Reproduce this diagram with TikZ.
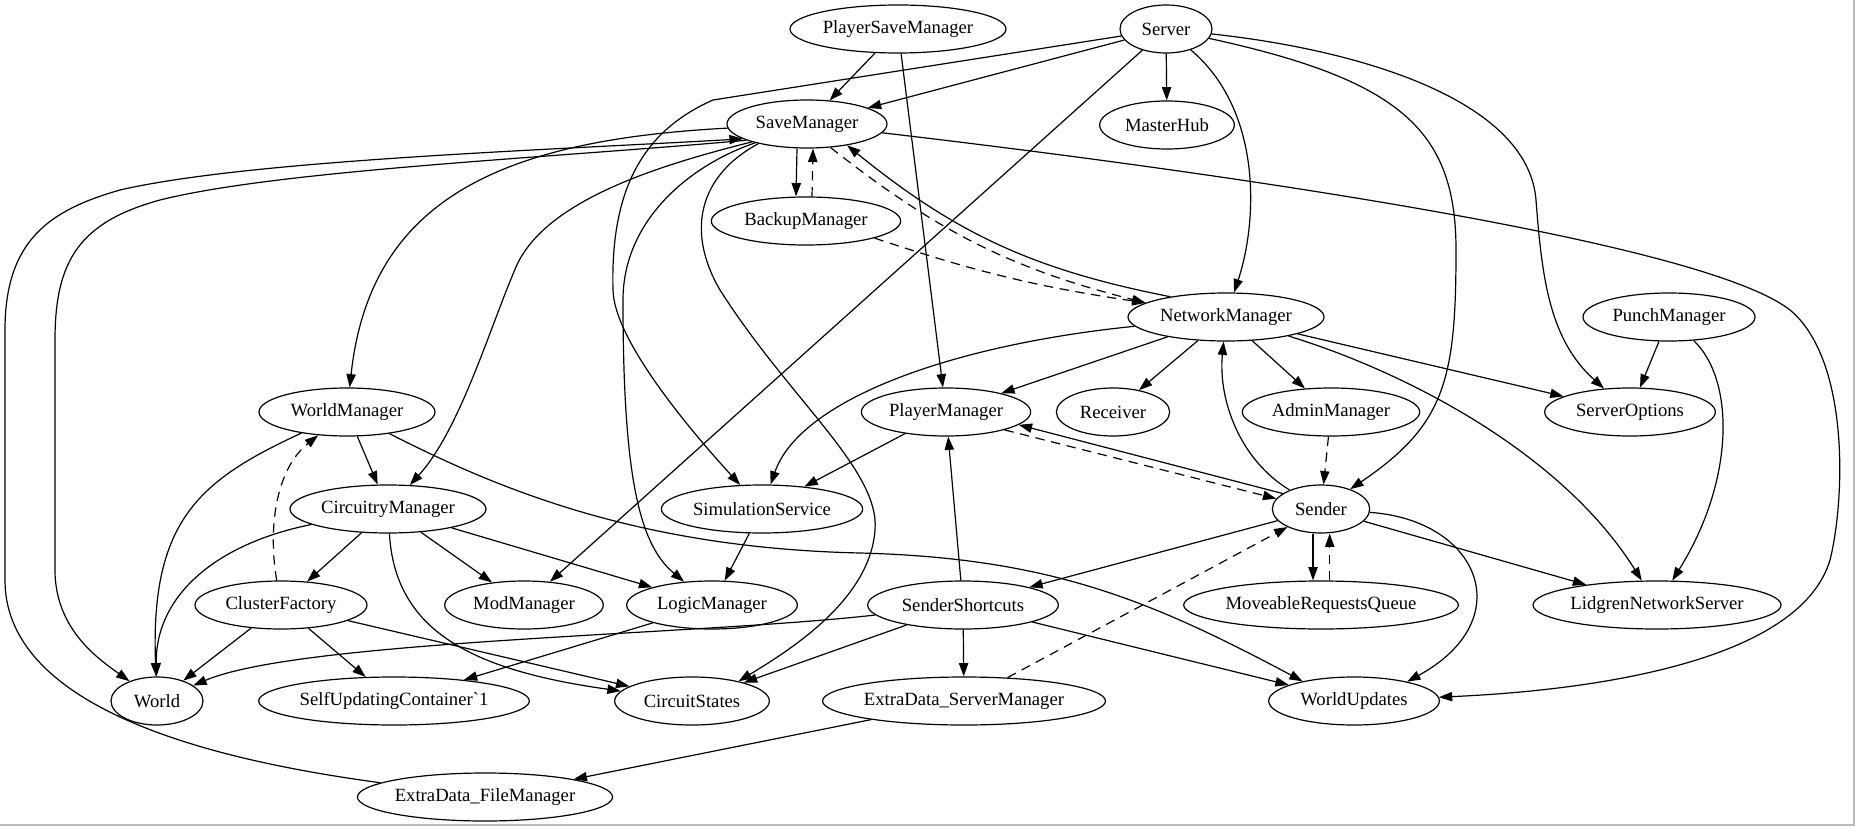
\documentclass[tikz,border=0pt]{standalone}
\usepackage{fontspec}
\setmainfont{Liberation Serif}
\usetikzlibrary{arrows.meta,shapes.geometric}

\begin{document}
\begin{tikzpicture}[x=0.75pt, y=-0.75pt, ->, >={Triangle[length=10pt,width=7pt]}, line width=0.9pt, cls/.style = {ellipse, draw, minimum height=36pt, inner sep=0pt, font=\fontsize{14pt}{16pt}\selectfont}, weak/.style = {dash pattern=on 7pt off 5pt}, every edge/.append style={line width=0.9pt}]

\useasboundingbox (0,0) rectangle (1862,827);

\node[cls, minimum width=162pt] (psave) at (898,29) {PlayerSaveManager};
\node[cls, minimum width=69pt] (srv) at (1166,29) {Server};
\node[cls, minimum width=120pt] (save) at (807,124) {SaveManager};
\node[cls, minimum width=101pt] (hub) at (1167,125) {MasterHub};
\node[cls, minimum width=142pt] (backup) at (806,221) {BackupManager};
\node[cls, minimum width=147pt] (net) at (1226,317) {NetworkManager};
\node[cls, minimum width=129pt] (punch) at (1669,317) {PunchManager};
\node[cls, minimum width=132pt] (wman) at (347,412) {WorldManager};
\node[cls, minimum width=127pt] (pman) at (946,412) {PlayerManager};
\node[cls, minimum width=85pt] (recv) at (1113,412) {Receiver};
\node[cls, minimum width=133pt] (admin) at (1331,412) {AdminManager};
\node[cls, minimum width=128pt] (opts) at (1630,412) {ServerOptions};
\node[cls, minimum width=147pt] (circ) at (388,509) {CircuitryManager};
\node[cls, minimum width=151pt] (sim) at (762,509) {SimulationService};
\node[cls, minimum width=73pt] (send) at (1321,509) {Sender};
\node[cls, minimum width=129pt] (clus) at (281,605) {ClusterFactory};
\node[cls, minimum width=119pt] (mod) at (524,605) {ModManager};
\node[cls, minimum width=128pt] (logic) at (712,605) {LogicManager};
\node[cls, minimum width=143pt] (short) at (963,605) {SenderShortcuts};
\node[cls, minimum width=206pt] (queue) at (1321,605) {MoveableRequestsQueue};
\node[cls, minimum width=186pt] (lid) at (1657,605) {LidgrenNetworkServer};
\node[cls, minimum width=69pt] (world) at (157,701) {World};
\node[cls, minimum width=203pt] (suc) at (394,701) {SelfUpdatingContainer\textasciigrave 1};
\node[cls, minimum width=116pt] (cstates) at (692,701) {CircuitStates};
\node[cls, minimum width=212pt] (xserv) at (964,701) {ExtraData\_ServerManager};
\node[cls, minimum width=128pt] (wupd) at (1354,701) {WorldUpdates};
\node[cls, minimum width=191pt] (xfile) at (485,797) {ExtraData\_FileManager};

\path
    (srv) edge (save)
    (srv) edge (hub)
    (srv) edge (mod)
    (psave) edge (save)
    (psave) edge (pman)
    (net) edge (pman)
    (net) edge (recv)
    (net) edge (admin)
    (net) edge (opts)
    (punch) edge (opts)
    (pman) edge (sim)
    (send) edge (short)
    (send) edge (lid)
    (short) edge (pman)
    (short) edge (xserv)
    (short) edge (wupd)
    (short) edge (cstates)
    (xserv) edge (xfile)
    (wman) edge (circ)
    (circ) edge (clus)
    (circ) edge (mod)
    (circ) edge (logic)
    (clus) edge (world)
    (clus) edge (suc)
    (clus) edge (cstates)
    (sim) edge (logic)
    (logic) edge (suc)
    (admin) edge[weak] (send)
    (xserv) edge[weak] (send)
    (backup.-14) edge[weak, bend right=5] (net.170)
    (save.-45) edge[weak, bend right=12] (net.170)
    (net.160) edge[bend left=14] (save.-28)
    (send.158) edge (pman.-10)
    (pman.-17) edge[weak] (send.167)
    ([xshift=-7.5pt]save.south) edge ([xshift=-7.5pt]backup.north)
    ([xshift=4.5pt]backup.north) edge[weak] ([xshift=4.5pt]save.south)
    ([xshift=-6pt]send.south) edge ([xshift=-6pt]queue.north)
    ([xshift=6.5pt]queue.north) edge[weak] ([xshift=6.5pt]send.south);

% long routed connectors
\draw (srv) .. controls (1262,110) and (1258,220) .. (net);
\draw (srv) .. controls (1400,80) and (1456,130) .. (1456,250) .. controls (1456,380) and (1445,425) .. (send);
\draw (srv) .. controls (1360,50) and (1528,100) .. (1536,200) .. controls (1542,280) and (1550,340) .. (opts);
\draw (srv) -- (713,100) .. controls (650,128) and (610,180) .. (613,290) .. controls (614,340) and (690,430) .. (sim);
\draw (save) .. controls (500,140) and (370,200) .. (wman);
\draw (save.198) .. controls (660,165) and (545,200) .. (516,267) .. controls (490,327) and (460,430) .. (circ);
\draw (save.200) .. controls (690,165) and (623,220) .. (623,300) .. controls (623,480) and (640,545) .. (logic);
\draw (save.202) .. controls (700,175) and (685,230) .. (720,290) .. controls (790,400) and (880,470) .. (875,530) .. controls (870,600) and (790,650) .. (cstates.23);
\draw (save.195) .. controls (550,158) and (280,170) .. (160,200) .. controls (80,222) and (55,260) .. (55,340) -- (55,570) .. controls (55,630) and (100,660) .. (world);
\draw (xfile) .. controls (250,765) and (5,720) .. (5,580) -- (5,330) .. controls (5,240) and (50,210) .. (120,190) .. controls (250,160) and (550,150) .. (save.193);
\draw (save) .. controls (1200,170) and (1700,240) .. (1790,310) .. controls (1850,360) and (1845,500) .. (1830,560) .. controls (1800,660) and (1600,690) .. (wupd);
\draw (net) .. controls (950,345) and (800,400) .. (sim);
\draw (net) .. controls (1400,370) and (1560,450) .. (lid);
\draw (send) .. controls (1240,460) and (1218,400) .. (net);
\draw (punch) .. controls (1735,380) and (1735,480) .. (lid);
\draw (send) .. controls (1480,520) and (1520,620) .. (wupd.20);
\draw (wman) .. controls (200,480) and (150,520) .. (world);
\draw (circ) .. controls (210,545) and (155,600) .. (world);
\draw[weak] (clus) .. controls (268,530) and (275,470) .. (wman);
\draw (circ) .. controls (395,630) and (470,670) .. (cstates);
\draw (short) .. controls (700,635) and (300,640) .. (world);
\draw (wman) .. controls (500,490) and (640,548) .. (860,553) .. controls (1050,558) and (1150,600) .. (wupd.159);

% screenshot frame
\draw[-, gray!55, line width=1.2pt] (1854,0) -- (1854,825) -- (0,825);

\end{tikzpicture}
\end{document}
